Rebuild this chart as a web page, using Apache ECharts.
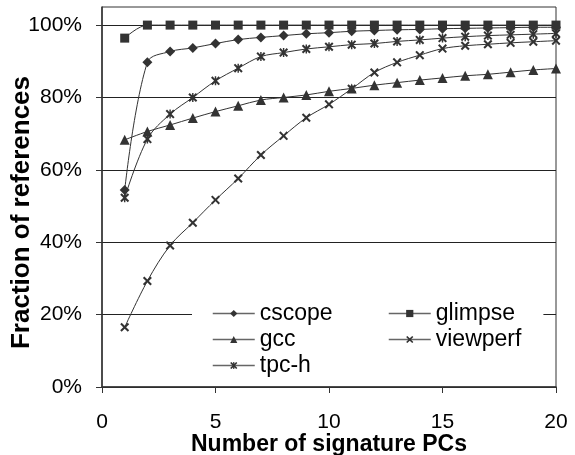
<!DOCTYPE html>
<html>
<head>
<meta charset="utf-8">
<script src="https://cdn.jsdelivr.net/npm/echarts@6/dist/echarts.min.js"></script>
<style>
  html, body { margin: 0; padding: 0; background: #fff; }
  #chart { width: 575px; height: 455px; }
</style>
</head>
<body>
<div id="chart"></div>
<script>
// Number of signature PCs (x) for every series
const pcs = [1, 2, 3, 4, 5, 6, 7, 8, 9, 10, 11, 12, 13, 14, 15, 16, 17, 18, 19, 20];

// Fraction of references covered, in percent
const cscope   = [54.4, 89.7, 92.7, 93.7, 94.9, 96.0, 96.6, 97.1, 97.6, 97.9, 98.3, 98.5, 98.7, 98.8, 99.0, 99.1, 99.2, 99.3, 99.4, 99.4];
const glimpse  = [96.4, 100, 100, 100, 100, 100, 100, 100, 100, 100, 100, 100, 100, 100, 100, 100, 100, 100, 100, 100];
const gcc      = [68.3, 70.6, 72.4, 74.3, 76.1, 77.7, 79.3, 80.0, 80.7, 81.7, 82.5, 83.4, 84.1, 84.8, 85.4, 86.0, 86.4, 87.0, 87.6, 88.0];
const viewperf = [16.5, 29.3, 39.1, 45.4, 51.7, 57.6, 64.1, 69.4, 74.4, 78.1, 82.4, 86.9, 89.7, 91.7, 93.5, 94.3, 94.7, 95.1, 95.4, 95.7];
const tpch     = [52.3, 68.5, 75.4, 80.0, 84.6, 88.1, 91.3, 92.4, 93.4, 94.0, 94.6, 94.9, 95.5, 95.9, 96.4, 96.8, 97.1, 97.3, 97.5, 97.7];

const yTicks = [0, 20, 40, 60, 80, 100];
const xTicks = [0, 5, 10, 15, 20];

// filled marker outlines
const xMark = 'path://M0,1.6 L1.6,0 L5,3.4 L8.4,0 L10,1.6 L6.6,5 L10,8.4 L8.4,10 L5,6.6 L1.6,10 L0,8.4 L3.4,5 Z';
const starMark = 'path://M0,1.6 L1.6,0 L5,3.4 L8.4,0 L10,1.6 L6.6,5 L10,8.4 L8.4,10 L5,6.6 L1.6,10 L0,8.4 L3.4,5 Z M4.2,0 L5.8,0 L5.8,10 L4.2,10 Z';

const INK = '#333';
const FONT = 'Liberation Sans, Arial, sans-serif';

function pairs(vals) { return pcs.map((x, i) => [x, vals[i]]); }

function makeSeries(name, vals, symbol, size) {
  return {
    name: name,
    type: 'line',
    data: pairs(vals),
    symbol: symbol,
    symbolSize: size,
    smooth: 0.35,
    lineStyle: { color: INK, width: 1 },
    itemStyle: { color: INK, borderWidth: 0 },
    emphasis: { disabled: true },
    animation: false,
    z: 3
  };
}

const legendBase = {
  orient: 'vertical',
  top: 297,
  itemWidth: 42,
  itemHeight: 9,
  itemGap: 3,
  backgroundColor: '#fff',
  textStyle: { fontFamily: FONT, fontSize: 23, color: '#000' },
  lineStyle: { color: '#666', width: 1.5 },
  selectedMode: false
};

const chart = echarts.init(document.getElementById('chart'), null, { renderer: 'canvas' });
chart.setOption({
  backgroundColor: '#fff',
  animation: false,
  grid: {
    left: 102, right: 19, top: 7, bottom: 68,
    outerBoundsMode: 'none',
    containLabel: false,
    show: true, borderColor: INK, borderWidth: 1, backgroundColor: 'transparent'
  },
  legend: [
    Object.assign({}, legendBase, {
      left: 192,
      padding: [5, 40, 5, 20],
      data: ['cscope', 'gcc', 'tpc-h']
    }),
    Object.assign({}, legendBase, {
      left: 350,
      padding: [5, 22, 5, 38],
      data: ['glimpse', 'viewperf']
    })
  ],
  xAxis: {
    type: 'value',
    min: 0, max: 20, interval: 5,
    name: 'Number of signature PCs',
    nameLocation: 'middle',
    nameGap: 46,
    nameMoveOverlap: false,
    nameTextStyle: { fontFamily: FONT, fontSize: 23, fontWeight: 'bold', color: '#000' },
    axisLine: { show: true, onZero: false, lineStyle: { color: INK, width: 1.5 } },
    axisTick: { show: true, inside: false, length: 6, customValues: xTicks, lineStyle: { color: INK, width: 1 } },
    axisLabel: { margin: 25, customValues: xTicks, fontFamily: FONT, fontSize: 21, color: '#000' },
    splitLine: { show: false }
  },
  yAxis: {
    type: 'value',
    min: 0, max: 105, interval: 20,
    name: 'Fraction of references',
    nameLocation: 'middle',
    nameGap: 67,
    nameRotate: 90,
    nameMoveOverlap: false,
    nameTextStyle: { fontFamily: FONT, fontSize: 26, fontWeight: 'bold', color: '#000', padding: [0, 31, 0, 0] },
    axisLine: { show: true, lineStyle: { color: INK, width: 1.5 } },
    axisTick: { show: true, inside: false, length: 6, customValues: yTicks, lineStyle: { color: INK, width: 1 } },
    axisLabel: {
      margin: 20, customValues: yTicks,
      fontFamily: FONT, fontSize: 21, color: '#000',
      formatter: v => v + '%'
    },
    splitLine: { show: true, lineStyle: { color: '#222', width: 1 } }
  },
  series: [
    makeSeries('cscope', cscope, 'diamond', 10),
    makeSeries('glimpse', glimpse, 'rect', 9),
    makeSeries('gcc', gcc, 'triangle', 10),
    makeSeries('viewperf', viewperf, xMark, 9),
    makeSeries('tpc-h', tpch, starMark, 9)
  ]
});
</script>
</body>
</html>
